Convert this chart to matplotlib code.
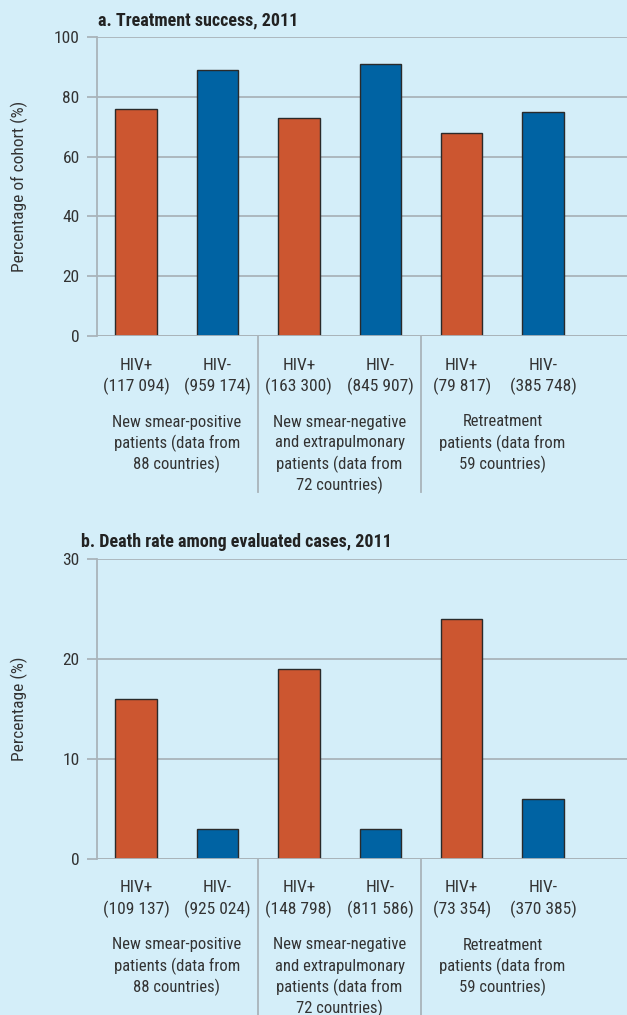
import matplotlib.pyplot as plt
import matplotlib.transforms as mtransforms

# data
hiv_labels = ["HIV+", "HIV-", "HIV+", "HIV-", "HIV+", "HIV-"]
group_labels = [
    ["New smear-positive", "patients (data from", "88 countries)"],
    ["New smear-negative", "and extrapulmonary", "patients (data from", "72 countries)"],
    ["Retreatment", "patients (data from", "59 countries)"],
]
success_counts = ["(117 094)", "(959 174)", "(163 300)", "(845 907)", "(79 817)", "(385 748)"]
success_values = [76, 89, 73, 91, 68, 75]
death_counts = ["(109 137)", "(925 024)", "(148 798)", "(811 586)", "(73 354)", "(370 385)"]
death_values = [16, 3, 19, 3, 24, 6]

BG = "#d4eef9"
ORANGE = "#cc5630"
BLUE = "#0063a3"
GRID = "#a9b4ba"
TXT = "#333333"

plt.rcParams['font.family'] = ['Roboto Condensed', 'DejaVu Sans']

W, H = 627, 1015
fig = plt.figure(figsize=(W / 100, H / 100), dpi=100, facecolor=BG)


def panel(top_px, zero_px, ymax, yticks, values, counts, title, title_x, ylabel, sep_len):
    left = 97
    ax = fig.add_axes([left / W, (H - zero_px) / H, (W - left) / W, (zero_px - top_px) / H])
    ax.set_facecolor(BG)
    x = list(range(len(values)))
    colors = [ORANGE if i % 2 == 0 else BLUE for i in x]
    ax.bar(x, values, width=0.51, color=colors, edgecolor="#2a2a2a", linewidth=1.0, zorder=3)
    ax.set_xlim(-0.48, 6.03)
    ax.set_ylim(0, ymax)
    ax.set_yticks(yticks)
    ax.set_yticklabels([str(t) for t in yticks], fontsize=12.5, color=TXT)
    ax.tick_params(axis='y', length=7, width=1.3, color=GRID, pad=5.5)
    ax.set_xticks([])
    ax.grid(axis='y', color=GRID, linewidth=1.3, zorder=0)
    for s in ['top', 'right', 'bottom']:
        ax.spines[s].set_visible(False)
    ax.spines['left'].set_color(GRID)
    ax.spines['left'].set_linewidth(1.3)
    ax.axhline(0, color=GRID, linewidth=1.3, zorder=4)

    trans = mtransforms.blended_transform_factory(ax.transData, ax.transAxes)
    h_ax = zero_px - top_px
    # group separators
    for xs in [1.5, 3.5]:
        ax.plot([xs, xs], [0, -sep_len / h_ax], transform=trans, color=GRID,
                linewidth=1.3, clip_on=False)
    # category labels
    for i in x:
        ax.text(i, -29 / h_ax, hiv_labels[i], transform=trans, ha='center', va='center',
                fontsize=12.5, color=TXT)
        ax.text(i, -50 / h_ax, counts[i], transform=trans, ha='center', va='center',
                fontsize=12.5, color=TXT)
    for g, lines in enumerate(group_labels):
        for k, line in enumerate(lines):
            ax.text(2 * g + 0.5, -(86 + 21 * k) / h_ax, line, transform=trans,
                    ha='center', va='center', fontsize=12, color=TXT)
    fig.text(title_x / W, 1 - (top_px - 17) / H, title, ha='left', va='center',
             fontsize=13, fontweight='bold', color="#222222")
    fig.text(19 / W, 1 - ((top_px + zero_px) / 2) / H, ylabel, rotation=90,
             ha='center', va='center', fontsize=12.5, color=TXT)
    return ax


panel(37, 336, 100, [0, 20, 40, 60, 80, 100], success_values, success_counts,
      "a. Treatment success, 2011", 98, "Percentage of cohort (%)", 156)
panel(559, 859, 30, [0, 10, 20, 30], death_values, death_counts,
      "b. Death rate among evaluated cases, 2011", 81, "Percentage (%)", 160)

fig.savefig("out.png", dpi=100, facecolor=BG)
